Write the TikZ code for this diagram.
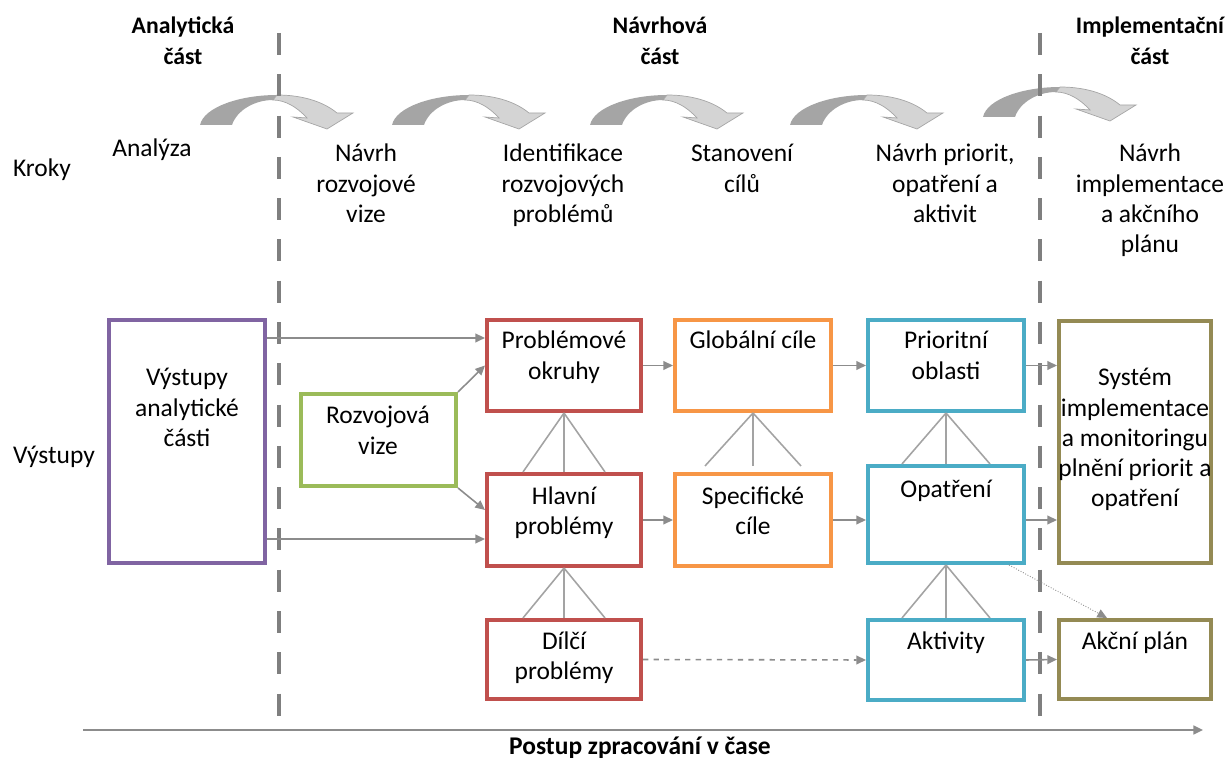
\documentclass[tikz,border=0pt]{standalone}
\usepackage{fontspec}
\setmainfont{Carlito}
\usetikzlibrary{arrows.meta, calc, fit, positioning}

\definecolor{boxpurple}{HTML}{8064A2}
\definecolor{boxgreen}{HTML}{9BBB59}
\definecolor{boxred}{HTML}{C0504D}
\definecolor{boxorange}{HTML}{F79646}
\definecolor{boxblue}{HTML}{4BACC6}
\definecolor{boxolive}{HTML}{948A54}
\definecolor{linegray}{HTML}{8C8C8C}
\definecolor{sepgray}{HTML}{7F7F7F}
\definecolor{curvedark}{HTML}{A5A5A5}
\definecolor{curvelight}{HTML}{D4D4D4}

\newcommand{\txtfont}{\fontsize{14.5}{17.2}\selectfont}
\newcommand{\headfont}{\fontsize{13.5}{17.2}\selectfont\bfseries}

\tikzset{
  box/.style={draw=#1, line width=2.3pt, inner sep=0pt},
  txt/.style={text width=8cm, align=flush center, anchor=base, inner sep=0pt, font=\txtfont},
  head/.style={txt, font=\headfont},
  conn/.style={draw=linegray, line width=0.9pt, -{Triangle[length=5.5pt,width=5pt]}},
  tree/.style={draw=linegray!80, line width=0.9pt},
  sep/.style={draw=sepgray, line width=2.8pt, dash pattern=on 12.5pt off 11pt},
  stepcurve/.pic={
    \fill[curvedark] (0,0) .. controls (4,-18) and (40,-30) .. (77,-30)
      -- (73,-25) .. controls (55,-25) and (37,-15) .. (32,0) -- cycle;
    \filldraw[fill=curvelight, draw=curvedark, line width=0.4pt]
      (77,-30) .. controls (105,-30) and (125,-22) .. (137,-12)
      -- (153,-12) -- (127,4) -- (93,-8) -- (107,-7)
      .. controls (97,-18) and (85,-25) .. (73,-25) -- cycle;
  }
}

\begin{document}
\begin{tikzpicture}[x=0.02cm, y=-0.02cm]
  \useasboundingbox (0,0) rectangle (1231,763);

  % curved arrows between the steps
  \foreach \cx/\cy in {200/125, 392/125, 590/125, 790/125, 983/117}
    \pic at (\cx,\cy) {stepcurve};

  % phase separators
  \draw[sep] (279,33) -- (279,716);
  \draw[sep] (1040,33) -- (1040,716);

  % phase headings
  \node[head] (analyt) at (183,34) {Analytická\\část};
  \node[head] (navrh) at (660,34) {Návrhová\\část};
  \node[head] (implem) at (1150,34) {Implementační\\část};

  % steps
  \node[txt] (kroky) at (42,177) {Kroky};
  \node[txt] (k-anal) at (152,157) {Analýza};
  \node[txt] (k-vize) at (366,162) {Návrh\\rozvojové\\vize};
  \node[txt] (k-probl) at (563,162) {Identifikace\\rozvojových\\problémů};
  \node[txt] (k-cile) at (742,162) {Stanovení\\cílů};
  \node[txt] (k-prior) at (945,162) {Návrh priorit,\\opatření a\\aktivit};
  \node[txt] (k-impl) at (1150,162) {Návrh\\implementace\\a akčního\\plánu};

  % outputs
  \node[txt] (vystupy) at (54,463) {Výstupy};

  \node[box=boxpurple, fit={(109,320) (265,563)}] (vyst) {};
  \node[box=boxgreen, fit={(301,394) (456,486)}] (vize) {};
  \node[box=boxred, fit={(487,320) (641,411)}] (probl) {};
  \node[box=boxred, fit={(487,474) (641,566)}] (hlavni) {};
  \node[box=boxred, fit={(487,620) (641,699)}] (dilci) {};
  \node[box=boxorange, fit={(675,320) (831,411)}] (glob) {};
  \node[box=boxorange, fit={(675,474) (831,566)}] (spec) {};
  \node[box=boxblue, fit={(868,320) (1024,411)}] (prior) {};
  \node[box=boxblue, fit={(868,466) (1024,563)}] (opatr) {};
  \node[box=boxblue, fit={(868,620) (1024,700)}] (aktiv) {};
  \node[box=boxolive, fit={(1059,321) (1211,563)}] (system) {};
  \node[box=boxolive, fit={(1059,620) (1211,699)}] (akcni) {};

  \node[txt] (vyst-t) at (187,386) {Výstupy\\analytické\\části};
  \node[txt] (vize-t) at (378,424) {Rozvojová\\vize};
  \node[txt] (probl-t) at (564,349) {Problémové\\okruhy};
  \node[txt] (hlavni-t) at (564,504) {Hlavní\\problémy};
  \node[txt] (dilci-t) at (564,649) {Dílčí\\problémy};
  \node[txt] (glob-t) at (753,349) {Globální cíle};
  \node[txt] (spec-t) at (753,504) {Specifické\\cíle};
  \node[txt] (prior-t) at (946,349) {Prioritní\\oblasti};
  \node[txt] (opatr-t) at (946,498) {Opatření};
  \node[txt] (aktiv-t) at (946,649) {Aktivity};
  \node[txt] (system-t) at (1135,386) {Systém\\implementace\\a monitoringu\\plnění priorit a\\opatření};
  \node[txt] (akcni-t) at (1135,649) {Akční plán};

  % connectors
  \draw[conn] ($(vyst.north east)+(0,20)$) coordinate (v1) -- (v1 -| probl.west);
  \draw[conn] ($(vyst.south east)+(0,-26)$) coordinate (v2) -- (v2 -| hlavni.west);
  \draw[conn] (vize.north east) -- (probl.west);
  \draw[conn] (vize.south east) -- ($(hlavni.west)+(0,-10)$);
  \draw[conn] (probl.east) -- (glob.west);
  \draw[conn] (glob.east) -- (prior.west);
  \draw[conn] (hlavni.east) -- (spec.west);
  \draw[conn] (spec.east) -- (spec.east -| opatr.west);
  \draw[conn] (prior.east) -- (prior.east -| system.west);
  \draw[conn] (spec.east -| opatr.east) -- (spec.east -| system.west);
  \draw[conn] (aktiv.east) -- (akcni.west);
  \draw[conn, dashed] (dilci.east) -- (aktiv.west);
  \draw[conn, line width=0.5pt, densely dotted] ($(opatr.south east)+(-17,0)$) -- ($(akcni.north)+(-28,0)$);

  % hierarchy
  \foreach \dx in {-41,0,41} {
    \draw[tree] (probl.south) -- ($(hlavni.north)+(\dx,0)$);
    \draw[tree] (hlavni.south) -- ($(dilci.north)+(\dx,0)$);
  }
  \foreach \dx in {-48,0,48}
    \draw[tree] (glob.south) -- ($(spec.north)+(\dx,-6)$);
  \foreach \dx in {-44,0,44} {
    \draw[tree] (prior.south) -- ($(opatr.north)+(\dx,0)$);
    \draw[tree] (opatr.south) -- ($(aktiv.north)+(\dx,0)$);
  }

  % time axis
  \coordinate (t0) at (83,730);
  \coordinate (t1) at (1203,730);
  \draw[conn, line width=1.2pt] (t0) -- (t1);
  \node[txt, font=\fontsize{14.5}{17.2}\selectfont\bfseries] (postup) at (640,754) {Postup zpracování v čase};
\end{tikzpicture}
\end{document}
